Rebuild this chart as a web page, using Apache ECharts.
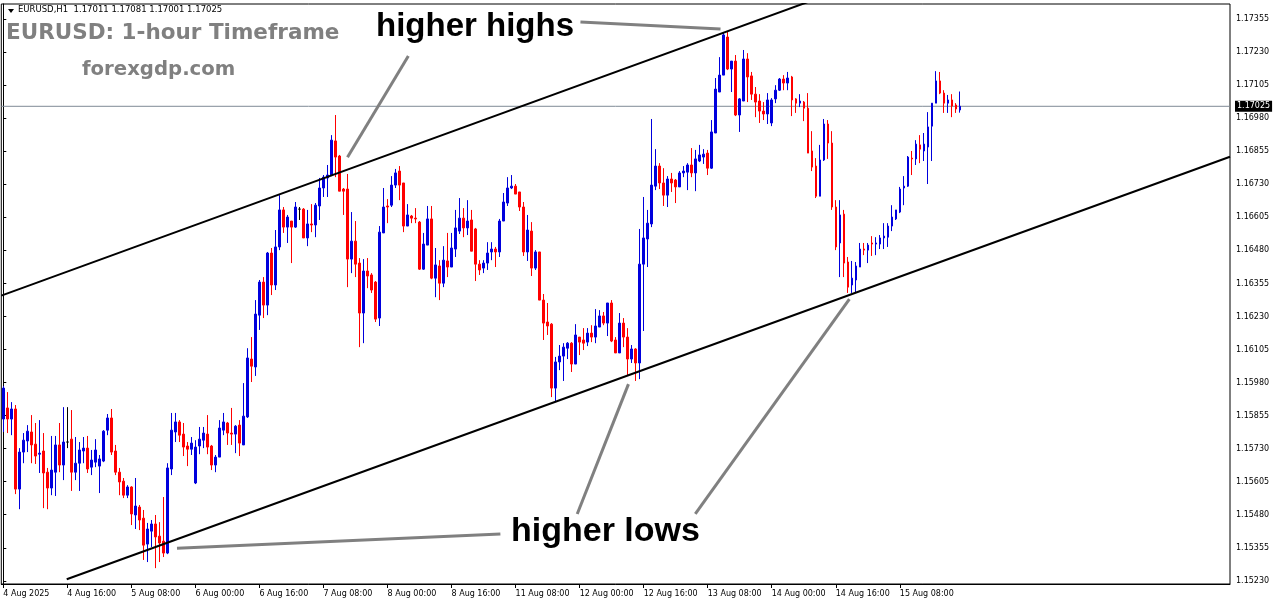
<!DOCTYPE html>
<html><head><meta charset="utf-8">
<script src="https://cdn.jsdelivr.net/npm/echarts@6/dist/echarts.min.js"></script>
<style>html,body{margin:0;padding:0;background:#fff}#c{width:1276px;height:604px}</style>
</head><body><div id="c"></div>
<script>
// ---- data (EURUSD H1, 4 Aug 2025 00:00 onward, one value per hourly bar) ----
const opens=[1.15842,1.15884,1.15842,1.15880,1.15577,1.15717,1.15759,1.15793,1.15747,1.15709,1.15721,1.15641,1.15581,1.15641,1.15744,1.15668,1.15755,1.15766,1.15641,1.15675,1.15721,1.15732,1.15660,1.15679,1.15664,1.15683,1.15800,1.15846,1.15721,1.15641,1.15607,1.15554,1.15585,1.15479,1.15509,1.15467,1.15369,1.15418,1.15445,1.15399,1.15380,1.15335,1.15653,1.15793,1.15831,1.15785,1.15740,1.15728,1.15600,1.15740,1.15762,1.15785,1.15740,1.15668,1.15698,1.15800,1.15827,1.15789,1.15785,1.15819,1.15744,1.15850,1.16069,1.16039,1.16235,1.16360,1.16273,1.16470,1.16349,1.16493,1.16633,1.16568,1.16591,1.16568,1.16636,1.16636,1.16527,1.16580,1.16576,1.16648,1.16716,1.16754,1.16765,1.16894,1.16837,1.16712,1.16712,1.16447,1.16515,1.16432,1.16243,1.16402,1.16387,1.16360,1.16224,1.16546,1.16648,1.16651,1.16727,1.16780,1.16735,1.16572,1.16610,1.16602,1.16587,1.16409,1.16500,1.16599,1.16375,1.16421,1.16356,1.16440,1.16417,1.16485,1.16553,1.16602,1.16565,1.16595,1.16561,1.16428,1.16413,1.16432,1.16474,1.16485,1.16474,1.16591,1.16659,1.16716,1.16723,1.16701,1.16644,1.16474,1.16553,1.16413,1.16474,1.16292,1.16209,1.16201,1.15959,1.16058,1.16080,1.16110,1.16129,1.16050,1.16152,1.16141,1.16133,1.16167,1.16152,1.16190,1.16232,1.16205,1.16281,1.16141,1.16092,1.16205,1.16152,1.16069,1.16107,1.16054,1.16428,1.16523,1.16580,1.16723,1.16799,1.16735,1.16689,1.16750,1.16746,1.16720,1.16773,1.16776,1.16803,1.16773,1.16818,1.16833,1.16848,1.16791,1.16924,1.17079,1.17143,1.17287,1.17166,1.17196,1.16992,1.17045,1.17204,1.17140,1.17071,1.17045,1.17007,1.16996,1.16962,1.17053,1.17086,1.17128,1.17113,1.17136,1.17053,1.17037,1.17041,1.17018,1.16856,1.16799,1.16685,1.16822,1.16958,1.16886,1.16644,1.16508,1.16617,1.16436,1.16349,1.16368,1.16417,1.16485,1.16481,1.16508,1.16504,1.16504,1.16527,1.16530,1.16572,1.16599,1.16625,1.16716,1.16723,1.16829,1.16826,1.16879,1.16856,1.16871,1.16950,1.17037,1.17121,1.17075,1.17037,1.17049,1.17030,1.17011];
const closes=[1.15959,1.15842,1.15880,1.15577,1.15717,1.15762,1.15796,1.15744,1.15702,1.15713,1.15638,1.15581,1.15649,1.15744,1.15668,1.15755,1.15755,1.15641,1.15675,1.15725,1.15732,1.15653,1.15687,1.15725,1.15691,1.15796,1.15846,1.15717,1.15641,1.15604,1.15554,1.15585,1.15483,1.15513,1.15460,1.15365,1.15426,1.15445,1.15396,1.15373,1.15335,1.15657,1.15800,1.15831,1.15781,1.15736,1.15728,1.15751,1.15736,1.15766,1.15789,1.15736,1.15668,1.15698,1.15808,1.15831,1.15789,1.15785,1.15815,1.15751,1.15853,1.16073,1.16042,1.16239,1.16360,1.16273,1.16470,1.16349,1.16493,1.16633,1.16568,1.16606,1.16568,1.16644,1.16636,1.16527,1.16580,1.16576,1.16651,1.16716,1.16757,1.16765,1.16897,1.16833,1.16704,1.16704,1.16447,1.16515,1.16428,1.16243,1.16402,1.16383,1.16330,1.16220,1.16549,1.16644,1.16644,1.16727,1.16773,1.16727,1.16572,1.16614,1.16602,1.16599,1.16409,1.16504,1.16599,1.16375,1.16425,1.16356,1.16443,1.16417,1.16489,1.16565,1.16602,1.16565,1.16591,1.16477,1.16428,1.16406,1.16432,1.16470,1.16485,1.16474,1.16591,1.16663,1.16716,1.16723,1.16693,1.16644,1.16474,1.16557,1.16413,1.16474,1.16292,1.16205,1.16194,1.15959,1.16058,1.16080,1.16114,1.16129,1.16050,1.16160,1.16133,1.16129,1.16167,1.16152,1.16194,1.16232,1.16205,1.16281,1.16137,1.16092,1.16205,1.16152,1.16069,1.16107,1.16054,1.16428,1.16527,1.16583,1.16727,1.16799,1.16735,1.16689,1.16750,1.16735,1.16720,1.16773,1.16780,1.16803,1.16773,1.16826,1.16841,1.16844,1.16791,1.16928,1.17090,1.17143,1.17295,1.17166,1.17196,1.16992,1.17053,1.17204,1.17136,1.17071,1.17041,1.17007,1.16996,1.17049,1.17049,1.17086,1.17128,1.17113,1.17132,1.17049,1.17037,1.17045,1.17018,1.16848,1.16795,1.16685,1.16822,1.16958,1.16886,1.16644,1.16493,1.16614,1.16432,1.16341,1.16375,1.16421,1.16485,1.16481,1.16500,1.16504,1.16508,1.16527,1.16534,1.16572,1.16606,1.16633,1.16712,1.16723,1.16833,1.16826,1.16882,1.16863,1.16882,1.16947,1.17037,1.17121,1.17075,1.17037,1.17049,1.17026,1.17015,1.17025];
const highs=[1.15967,1.15944,1.15906,1.15895,1.15732,1.15789,1.15819,1.15857,1.15827,1.15838,1.15789,1.15657,1.15778,1.15778,1.15827,1.15887,1.15887,1.15876,1.15774,1.15755,1.15774,1.15778,1.15725,1.15766,1.15706,1.15800,1.15861,1.15880,1.15744,1.15657,1.15619,1.15592,1.15588,1.15619,1.15517,1.15498,1.15449,1.15460,1.15479,1.15452,1.15547,1.15675,1.15865,1.15865,1.15838,1.15827,1.15755,1.15774,1.15762,1.15812,1.15812,1.15857,1.15744,1.15706,1.15838,1.15865,1.15831,1.15884,1.15819,1.15838,1.15978,1.16110,1.16152,1.16292,1.16368,1.16379,1.16474,1.16489,1.16557,1.16689,1.16644,1.16614,1.16591,1.16663,1.16644,1.16640,1.16633,1.16655,1.16659,1.16754,1.16765,1.16803,1.16916,1.16992,1.16841,1.16716,1.16769,1.16625,1.16591,1.16451,1.16447,1.16451,1.16394,1.16364,1.16572,1.16716,1.16674,1.16761,1.16788,1.16799,1.16735,1.16655,1.16614,1.16640,1.16591,1.16546,1.16648,1.16648,1.16489,1.16443,1.16496,1.16546,1.16546,1.16633,1.16678,1.16640,1.16670,1.16633,1.16565,1.16443,1.16443,1.16511,1.16511,1.16493,1.16599,1.16697,1.16757,1.16765,1.16731,1.16701,1.16663,1.16614,1.16587,1.16481,1.16474,1.16315,1.16281,1.16205,1.16077,1.16122,1.16129,1.16133,1.16133,1.16201,1.16152,1.16186,1.16186,1.16197,1.16258,1.16254,1.16247,1.16281,1.16292,1.16152,1.16243,1.16224,1.16186,1.16122,1.16110,1.16561,1.16682,1.16633,1.16977,1.16863,1.16810,1.16791,1.16761,1.16773,1.16750,1.16780,1.16799,1.16810,1.16867,1.16860,1.16879,1.16863,1.16860,1.16973,1.17132,1.17211,1.17306,1.17306,1.17196,1.17219,1.17056,1.17238,1.17226,1.17155,1.17098,1.17071,1.17041,1.17075,1.17056,1.17105,1.17132,1.17143,1.17155,1.17140,1.17056,1.17071,1.17045,1.17075,1.16931,1.16829,1.16879,1.16977,1.16973,1.16931,1.16670,1.16670,1.16633,1.16455,1.16440,1.16436,1.16508,1.16508,1.16508,1.16534,1.16530,1.16538,1.16583,1.16583,1.16651,1.16633,1.16720,1.16761,1.16837,1.16856,1.16897,1.16916,1.16924,1.17003,1.17037,1.17158,1.17155,1.17086,1.17068,1.17071,1.17037,1.17081];
const lows=[1.15793,1.15789,1.15781,1.15558,1.15501,1.15675,1.15717,1.15675,1.15672,1.15638,1.15505,1.15501,1.15554,1.15551,1.15641,1.15611,1.15732,1.15570,1.15611,1.15570,1.15675,1.15638,1.15630,1.15660,1.15562,1.15679,1.15781,1.15706,1.15630,1.15554,1.15543,1.15543,1.15441,1.15426,1.15422,1.15309,1.15301,1.15358,1.15278,1.15301,1.15320,1.15331,1.15630,1.15755,1.15755,1.15702,1.15664,1.15706,1.15596,1.15709,1.15732,1.15709,1.15649,1.15641,1.15698,1.15781,1.15744,1.15744,1.15713,1.15702,1.15744,1.15846,1.15982,1.16005,1.16179,1.16224,1.16235,1.16311,1.16330,1.16481,1.16546,1.16508,1.16432,1.16565,1.16595,1.16527,1.16496,1.16549,1.16530,1.16595,1.16682,1.16682,1.16761,1.16757,1.16704,1.16614,1.16341,1.16394,1.16379,1.16114,1.16129,1.16337,1.16319,1.16209,1.16194,1.16546,1.16583,1.16644,1.16716,1.16670,1.16549,1.16572,1.16583,1.16583,1.16406,1.16406,1.16500,1.16371,1.16303,1.16292,1.16341,1.16379,1.16417,1.16455,1.16542,1.16530,1.16538,1.16477,1.16364,1.16387,1.16394,1.16406,1.16443,1.16417,1.16455,1.16591,1.16648,1.16712,1.16693,1.16629,1.16459,1.16440,1.16383,1.16406,1.16292,1.16141,1.16160,1.15925,1.15906,1.16027,1.15986,1.16069,1.16020,1.16050,1.16084,1.16103,1.16118,1.16133,1.16129,1.16190,1.16197,1.16156,1.16133,1.16092,1.16092,1.16114,1.16008,1.16054,1.15986,1.15993,1.16175,1.16417,1.16568,1.16708,1.16712,1.16648,1.16644,1.16701,1.16659,1.16720,1.16757,1.16708,1.16757,1.16704,1.16814,1.16807,1.16765,1.16788,1.16924,1.17079,1.17143,1.17162,1.17079,1.16988,1.16928,1.17045,1.17041,1.17049,1.16984,1.16962,1.16973,1.16958,1.16950,1.17037,1.17083,1.17086,1.17086,1.16988,1.17000,1.17022,1.16969,1.16848,1.16780,1.16678,1.16685,1.16818,1.16826,1.16633,1.16481,1.16379,1.16379,1.16319,1.16319,1.16319,1.16417,1.16462,1.16432,1.16459,1.16462,1.16485,1.16485,1.16493,1.16553,1.16595,1.16621,1.16651,1.16720,1.16765,1.16803,1.16810,1.16818,1.16731,1.16818,1.17037,1.17071,1.17000,1.17000,1.16984,1.17000,1.17001];
const xTickLabels=['4 Aug 2025','4 Aug 16:00','5 Aug 08:00','6 Aug 00:00','6 Aug 16:00','7 Aug 08:00','8 Aug 00:00','8 Aug 16:00','11 Aug 08:00','12 Aug 00:00','12 Aug 16:00','13 Aug 08:00','14 Aug 00:00','14 Aug 16:00','15 Aug 08:00'];
const yTicks=[1.15230,1.15355,1.15480,1.15605,1.15730,1.15855,1.15980,1.16105,1.16230,1.16355,1.16480,1.16605,1.16730,1.16855,1.16980,1.17105,1.17230,1.17355];
const lastPrice=1.17025;
const headerText='EURUSD,H1  1.17011 1.17081 1.17001 1.17025';
// channel lines and pointer lines as [bar index, price]
const upperChannel=[[-0.5,1.16309],[210,1.17469]];
const lowerChannel=[[15.85,1.15236],[306.5,1.16834]];
const pointerLines=[
  [[144.2,1.17344],[179.2,1.17317]],
  [[101.2,1.17215],[86.0,1.16832]],
  [[43.4,1.15353],[124.2,1.15407]],
  [[156.2,1.15974],[143.4,1.15483]],
  [[211.4,1.16296],[172.9,1.15483]]
];

// ---- build ----
const totalSlots=307, labelEvery=16;
const cats=[]; const labelMap={};
for(let i=0;i<totalSlots;i++){cats.push(String(i));}
xTickLabels.forEach((t,k)=>{labelMap[k*labelEvery]=t;});
const candles=opens.map((o,i)=>[o,closes[i],lows[i],highs[i]]);
const isLab=(idx)=>labelMap[idx]!==undefined;

const series=[{
  type:'candlestick',xAxisIndex:0,yAxisIndex:0,data:candles,barWidth:2,
  itemStyle:{color:'#0000dd',color0:'#ff0000',borderColor:'#0000dd',borderColor0:'#ff0000',borderColorDoji:'#000000',borderWidth:1},
  emphasis:{disabled:true},silent:true,z:3
},{
  type:'line',xAxisIndex:1,yAxisIndex:0,data:[[-0.5,lastPrice],[306.5,lastPrice]],symbol:'none',silent:true,clip:false,
  lineStyle:{color:'#7f8a96',width:1},z:2,
  endLabel:{show:true,formatter:lastPrice.toFixed(5),backgroundColor:'#000',color:'#fff',padding:[2,2,1,2],fontSize:8,fontFamily:'DejaVu Sans',distance:5}
},{
  type:'line',xAxisIndex:1,yAxisIndex:0,data:upperChannel,symbol:'none',silent:true,clip:true,
  lineStyle:{color:'#000',width:2},z:5
},{
  type:'line',xAxisIndex:1,yAxisIndex:0,data:lowerChannel,symbol:'none',silent:true,clip:true,
  lineStyle:{color:'#000',width:2},z:5
}];
pointerLines.forEach(pl=>series.push({type:'line',xAxisIndex:1,yAxisIndex:0,data:pl,symbol:'none',silent:true,clip:true,lineStyle:{color:'#808080',width:3},z:6}));

const chart=echarts.init(document.getElementById('c'),null,{renderer:'canvas'});
chart.setOption({
  animation:false,
  backgroundColor:'#ffffff',
  grid:{left:1.3,right:46,top:4,bottom:20,show:true,borderColor:'#000',borderWidth:1,backgroundColor:'transparent'},
  xAxis:[{
    type:'category',data:cats,boundaryGap:true,
    axisLine:{show:true,lineStyle:{color:'#000',width:1}},
    axisTick:{show:true,alignWithLabel:true,interval:(idx)=>isLab(idx),length:4,lineStyle:{color:'#000'}},
    axisLabel:{interval:(idx)=>isLab(idx),formatter:(v,idx)=>labelMap[idx]||'',align:'left',color:'#000',fontSize:8,fontFamily:'DejaVu Sans',margin:6},
    splitLine:{show:false}
  },{
    type:'value',min:-0.5,max:306.5,show:false
  }],
  yAxis:[{
    type:'value',position:'right',min:1.15218,max:1.17412,scale:true,
    axisLine:{show:true,lineStyle:{color:'#000',width:1}},
    axisTick:{show:true,customValues:yTicks,length:3,lineStyle:{color:'#000'}},
    axisLabel:{customValues:yTicks,formatter:(v)=>v.toFixed(5),color:'#000',fontSize:8,fontFamily:'DejaVu Sans',margin:6},
    splitLine:{show:false}
  }],
  series:series,
  graphic:[
    {type:'polygon',shape:{points:[[8,9],[14,9],[11,13]]},style:{fill:'#000'}},
    {type:'text',left:18,top:5,style:{text:headerText,font:'8.5px "DejaVu Sans"',fill:'#000'}},
    {type:'text',x:6,y:33,style:{text:'EURUSD: 1-hour Timeframe',font:'bold 21.5px "DejaVu Sans"',fill:'#808080',verticalAlign:'middle'}},
    {type:'text',x:82,y:70,style:{text:'forexgdp.com',font:'bold 19.7px "DejaVu Sans"',fill:'#808080',verticalAlign:'middle'}},
    {type:'text',x:376,y:27,style:{text:'higher highs',font:'bold 33px "Liberation Sans"',fill:'#000',verticalAlign:'middle'}},
    {type:'text',x:511,y:532,style:{text:'higher lows',font:'bold 34px "Liberation Sans"',fill:'#000',verticalAlign:'middle'}}
  ]
});
</script></body></html>
